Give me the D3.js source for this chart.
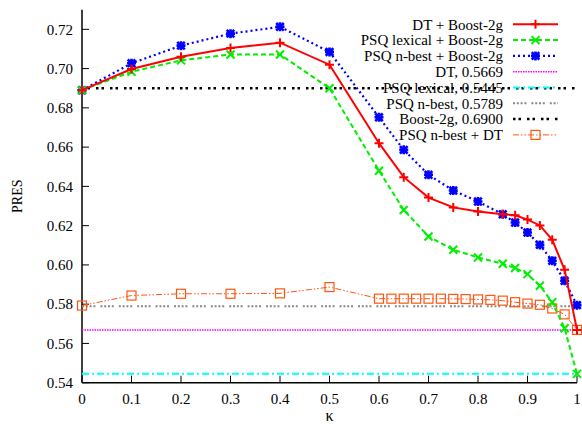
<!DOCTYPE html>
<html>
<head>
<meta charset="utf-8">
<script src="https://cdn.jsdelivr.net/npm/d3@7"></script>
<style>
  body { margin: 0; background: #fff; }
  text { font-family: "Liberation Serif", "DejaVu Serif", serif; }
</style>
</head>
<body>
<div id="chart"></div>
<script>
// kappa values
const kMain = [0, 0.1, 0.2, 0.3, 0.4, 0.5, 0.6, 0.65, 0.7, 0.75, 0.8, 0.85, 0.875, 0.9, 0.925, 0.95, 0.975, 1.0];
const kDT = [0, 0.1, 0.2, 0.3, 0.4, 0.5, 0.6, 0.625, 0.65, 0.675, 0.7, 0.725, 0.75, 0.775, 0.8, 0.825, 0.85, 0.875, 0.9, 0.925, 0.95, 0.975, 1.0];

const dtBoost = [0.689, 0.6998, 0.706, 0.7105, 0.7132, 0.702, 0.662, 0.6447, 0.6343, 0.6293, 0.6272, 0.6258, 0.6253, 0.6231, 0.6201, 0.6128, 0.5975, 0.5669];
const lexBoost = [0.689, 0.6984, 0.7042, 0.7072, 0.7072, 0.690, 0.648, 0.628, 0.6145, 0.6077, 0.6038, 0.6006, 0.5984, 0.5953, 0.5894, 0.581, 0.5677, 0.5445];
const nbestBoost = [0.689, 0.7027, 0.7117, 0.7178, 0.7213, 0.7085, 0.6752, 0.6586, 0.6459, 0.6379, 0.6323, 0.6258, 0.6216, 0.6165, 0.6102, 0.6021, 0.5919, 0.5795];
const nbestDT = [0.5793, 0.5844, 0.5853, 0.5853, 0.5855, 0.5887, 0.5828, 0.5828, 0.5828, 0.5828, 0.5828, 0.5828, 0.5827, 0.5826, 0.5824, 0.5822, 0.5818, 0.581, 0.5803, 0.5797, 0.5778, 0.5748, 0.5669];

const baselines = [0.5669, 0.5445, 0.5789, 0.6900];
const baseNames = ['DT, 0.5669', 'PSQ lexical, 0.5445', 'PSQ n-best, 0.5789', 'Boost-2g, 0.6900'];

const xTicks = [0, 0.1, 0.2, 0.3, 0.4, 0.5, 0.6, 0.7, 0.8, 0.9, 1];
const yTicks = [0.54, 0.56, 0.58, 0.60, 0.62, 0.64, 0.66, 0.68, 0.70, 0.72];

const W = 582, H = 429;
const svg = d3.select('#chart').append('svg').attr('width', W).attr('height', H);

const x = d3.scaleLinear().domain([0, 1]).range([82, 577]);
const y = d3.scaleLinear().domain([0.54, 0.73]).range([382.7, 9.7]);

// axes
svg.append('line').attr('x1', x(0)).attr('x2', x(0)).attr('y1', y(0.73)).attr('y2', y(0.54))
  .attr('stroke', '#000').attr('stroke-width', 1.5);
svg.append('line').attr('x1', x(0)).attr('x2', x(1)).attr('y1', y(0.54)).attr('y2', y(0.54))
  .attr('stroke', '#000').attr('stroke-width', 1.5);

const yAxis = svg.append('g');
yTicks.forEach(t => {
  yAxis.append('line').attr('x1', x(0)).attr('x2', x(0) + 7).attr('y1', y(t)).attr('y2', y(t))
    .attr('stroke', '#000').attr('stroke-width', 1);
  yAxis.append('text').attr('x', 73).attr('y', y(t)).attr('dy', '0.35em')
    .attr('text-anchor', 'end').style('font-size', '15px').text(d3.format('.2f')(t));
});
const xAxis = svg.append('g');
xTicks.forEach(t => {
  xAxis.append('line').attr('x1', x(t)).attr('x2', x(t)).attr('y1', y(0.54)).attr('y2', y(0.54) - 7)
    .attr('stroke', '#000').attr('stroke-width', 1);
  xAxis.append('text').attr('x', x(t)).attr('y', 404)
    .attr('text-anchor', 'middle').style('font-size', '15px').text(t);
});

svg.append('text').attr('transform', 'translate(22,' + y(0.635) + ') rotate(-90)')
  .attr('text-anchor', 'middle').style('font-size', '14px').text('PRES');
svg.append('text').attr('x', x(0.5)).attr('y', 421)
  .attr('text-anchor', 'middle').style('font-size', '16px').text('κ');

// styles
const baseStyles = [
  { color: '#ff00ff', width: 1.5, dash: '1.5,1' },
  { color: '#00ffff', width: 2, dash: '7,3,2,3' },
  { color: '#888888', width: 2, dash: '2,1.8,2,1.8,2,1.8,2,5' },
  { color: '#000000', width: 2.5, dash: '2.5,3,2.5,6' }
];

const seriesList = [
  { name: 'DT + Boost-2g', k: kMain, v: dtBoost, color: '#ff0000', width: 2, dash: null, marker: 'plus' },
  { name: 'PSQ lexical + Boost-2g', k: kMain, v: lexBoost, color: '#00ee00', width: 2, dash: '5,3', marker: 'cross' },
  { name: 'PSQ n-best + Boost-2g', k: kMain, v: nbestBoost, color: '#0000ff', width: 2.2, dash: '2,3', marker: 'star' },
  { name: 'PSQ n-best + DT', k: kDT, v: nbestDT, color: '#ff5511', width: 1, dash: '6,2,1.5,2,1.5,2', marker: 'square' }
];

function drawMarker(g, type, cx, cy, color) {
  const s = 4.5;
  if (type === 'plus') {
    g.append('path').attr('d', `M${cx - s},${cy}H${cx + s}M${cx},${cy - s}V${cy + s}`)
      .attr('stroke', color).attr('stroke-width', 2).attr('fill', 'none');
  }
  if (type === 'cross') {
    g.append('path').attr('d', `M${cx - 4},${cy - 4}L${cx + 4},${cy + 4}M${cx - 4},${cy + 4}L${cx + 4},${cy - 4}`)
      .attr('stroke', color).attr('stroke-width', 2).attr('fill', 'none');
  }
  if (type === 'star') {
    g.append('path').attr('d', `M${cx - s},${cy}H${cx + s}M${cx},${cy - s}V${cy + s}M${cx - 3.8},${cy - 3.8}L${cx + 3.8},${cy + 3.8}M${cx - 3.8},${cy + 3.8}L${cx + 3.8},${cy - 3.8}`)
      .attr('stroke', color).attr('stroke-width', 2.6).attr('fill', 'none');
    g.append('rect').attr('x', cx - 2.5).attr('y', cy - 2.5).attr('width', 5).attr('height', 5).attr('fill', color);
  }
  if (type === 'square') {
    g.append('rect').attr('x', cx - 4.5).attr('y', cy - 4.5).attr('width', 9).attr('height', 9)
      .attr('stroke', color).attr('stroke-width', 1.2).attr('fill', 'none');
  }
}

// baselines
baselines.forEach((b, i) => {
  const st = baseStyles[i];
  svg.append('line').attr('x1', x(0)).attr('x2', x(1)).attr('y1', y(b)).attr('y2', y(b))
    .attr('stroke', st.color).attr('stroke-width', st.width)
    .attr('stroke-dasharray', st.dash);
});

const line = d3.line().x(d => x(d[0])).y(d => y(d[1]));

// series (drawn in reverse so red is on top)
seriesList.slice().reverse().forEach(s => {
  const pts = s.k.map((k, i) => [k, s.v[i]]);
  svg.append('path').datum(pts).attr('d', line)
    .attr('fill', 'none').attr('stroke', s.color).attr('stroke-width', s.width)
    .attr('stroke-dasharray', s.dash);
  const g = svg.append('g');
  pts.forEach(p => drawMarker(g, s.marker, x(p[0]), y(p[1]), s.color));
});

// legend
const legendItems = [
  { name: seriesList[0].name, style: seriesList[0] },
  { name: seriesList[1].name, style: seriesList[1] },
  { name: seriesList[2].name, style: seriesList[2] },
  { name: baseNames[0], style: baseStyles[0] },
  { name: baseNames[1], style: baseStyles[1] },
  { name: baseNames[2], style: baseStyles[2] },
  { name: baseNames[3], style: baseStyles[3] },
  { name: seriesList[3].name, style: seriesList[3] }
];
const leg = svg.append('g');
legendItems.forEach((it, i) => {
  const ly = 24.3 + i * 15.8;
  leg.append('text').attr('x', 503).attr('y', ly).attr('dy', '0.35em')
    .attr('text-anchor', 'end').style('font-size', '15px').text(it.name);
  leg.append('line').attr('x1', 513).attr('x2', 558).attr('y1', ly).attr('y2', ly)
    .attr('stroke', it.style.color).attr('stroke-width', it.style.width)
    .attr('stroke-dasharray', it.style.dash);
  if (it.style.marker) drawMarker(leg, it.style.marker, 535.5, ly, it.style.color);
});
</script>
</body>
</html>
